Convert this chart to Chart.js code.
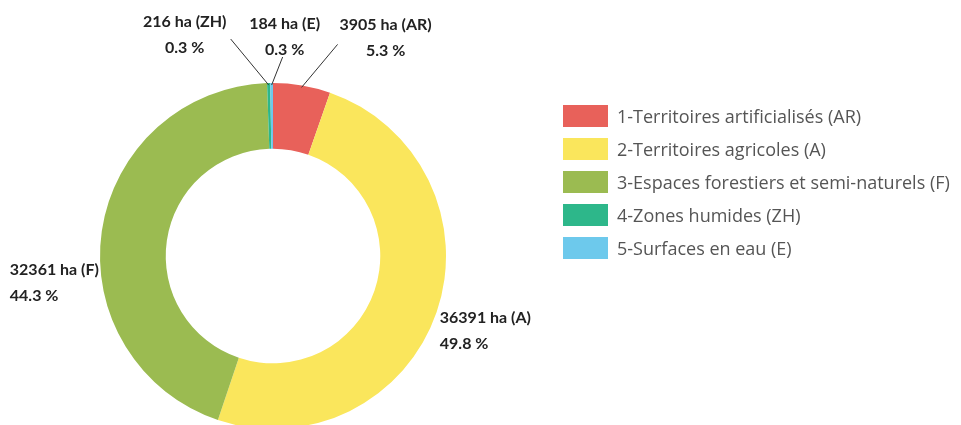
<!DOCTYPE html>
<html>
<head>
<meta charset="utf-8">
<script src="https://cdn.jsdelivr.net/npm/chart.js@4"></script>
<style>
  html, body { margin: 0; padding: 0; background: #fff; overflow: hidden; }
  #wrap { position: absolute; left: 0; top: 0; width: 961px; height: 429px; }
  #legend { position: absolute; left: 563px; top: 105px; font-family: "Open Sans", sans-serif; font-size: 18px; color: #555; }
  #legend .row { display: flex; align-items: center; height: 22px; margin-bottom: 11px; }
  #legend .box { width: 45px; height: 22px; margin-right: 9px; }
</style>
</head>
<body>
<div id="wrap"><canvas id="chart" width="961" height="429"></canvas></div>
<div id="legend"></div>
<script>
const categories = [
    '1-Territoires artificialisés (AR)',
    '2-Territoires agricoles (A)',
    '3-Espaces forestiers et semi-naturels (F)',
    '4-Zones humides (ZH)',
    '5-Surfaces en eau (E)',
];
const codes = ['AR', 'A', 'F', 'ZH', 'E'];
const hectares = [3905, 36391, 32361, 216, 184];
const percentLabels = ['5.3 %', '49.8 %', '44.3 %', '0.3 %', '0.3 %'];

const colors = ['#E8615A', '#FAE65C', '#9BBB51', '#2DB78A', '#6DC9EC'];

// label placement relative to the outer edge of each slice
const labelStyle = [
    { dx: 84, dy: -63, align: 'center', line: [36, -43] },
    { dx: 5, dy: 6, align: 'left' },
    { dx: -94, dy: 39, align: 'left' },
    { dx: -84, dy: -63, align: 'center', line: [-38, -46] },
    { dx: 13, dy: -61, align: 'center', line: [11, -28] },
];

const sliceLabels = {
    id: 'sliceLabels',
    afterDatasetsDraw(chart) {
        const ctx = chart.ctx;
        const arcs = chart.getDatasetMeta(0).data;
        ctx.save();
        ctx.font = 'bold 16px Lato, sans-serif';
        ctx.fillStyle = '#222';
        ctx.strokeStyle = '#333';
        ctx.lineWidth = 1;
        ctx.textBaseline = 'middle';
        arcs.forEach((arc, i) => {
            const { x, y, startAngle, endAngle, outerRadius } = arc.getProps(['x', 'y', 'startAngle', 'endAngle', 'outerRadius'], true);
            const mid = (startAngle + endAngle) / 2;
            const ax = x + Math.cos(mid) * (outerRadius - 2);
            const ay = y + Math.sin(mid) * (outerRadius - 2);
            const st = labelStyle[i];
            if (st.line) {
                ctx.beginPath();
                ctx.moveTo(ax + st.line[0], ay + st.line[1]);
                ctx.lineTo(ax, ay);
                ctx.stroke();
            }
            ctx.textAlign = st.align;
            ctx.fillText(hectares[i] + ' ha (' + codes[i] + ')', ax + st.dx, ay + st.dy);
            ctx.fillText(percentLabels[i], ax + st.dx, ay + st.dy + 26);
        });
        ctx.restore();
    },
};

new Chart(document.getElementById('chart'), {
    type: 'doughnut',
    data: {
        labels: categories,
        datasets: [{
            data: hectares,
            backgroundColor: colors,
            borderWidth: 0,
        }],
    },
    options: {
        responsive: false,
        animation: false,
        cutout: '62%',
        rotation: 0,
        layout: {
            padding: { top: 83, right: 415, bottom: 0, left: 0 },
        },
        plugins: {
            legend: { display: false },
            tooltip: { enabled: false },
        },
    },
    plugins: [sliceLabels],
});

const legend = document.getElementById('legend');
categories.forEach((name, i) => {
    const row = document.createElement('div');
    row.className = 'row';
    const box = document.createElement('div');
    box.className = 'box';
    box.style.background = colors[i];
    const txt = document.createElement('span');
    txt.textContent = name;
    row.appendChild(box);
    row.appendChild(txt);
    legend.appendChild(row);
});
</script>
</body>
</html>
